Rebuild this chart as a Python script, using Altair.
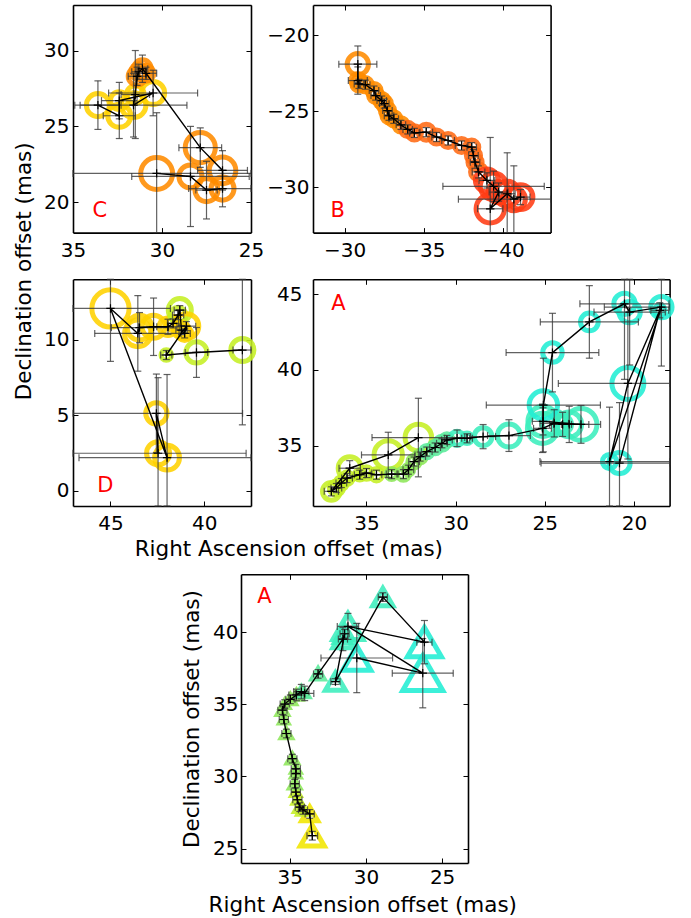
import altair as alt
import pandas as pd

FONT = "DejaVu Sans"

# ---------------- colour codes (component / epoch groups) ----------------
COMP_CODES = ["Y", "YL", "O", "OR", "R", "GY", "G", "GA", "T", "C"]
COMP_COLORS = ["#FFD200", "#F2E600", "#FF8C00", "#FF6A14", "#FF3C14",
               "#C6F024", "#8EE85A", "#5CEB9C", "#3CEFBE", "#22EED4"]

# ---------------- Panel C ----------------
C_ra = [33.6, 32.4, 32.4, 30.5, 31.6, 31.5, 31.4, 31.3, 31.1, 30.9, 27.85, 26.6, 26.6, 27.5, 28.4, 30.3]
C_dec = [26.4, 25.7, 26.7, 27.2, 26.4, 27.1, 28.3, 28.6, 28.8, 28.5, 23.6, 22.1, 20.9, 20.8, 21.7, 21.9]
C_era = [1.3, 0.9, 1.0, 2.5, 3.0, 0.8, 0.5, 0.4, 0.3, 0.6, 1.2, 1.4, 1.9, 0.6, 3.3, 5.5]
C_edec = [1.6, 1.5, 1.2, 1.5, 2.1, 2.9, 0.6, 0.5, 0.9, 0.4, 1.3, 1.3, 1.2, 1.9, 3.3, 4.0]
C_amp = [13, 13, 10, 13, 14, 10, 10, 9, 10, 9, 17, 15, 13, 13, 13, 18]
C_comp = ["Y"] * 6 + ["O"] * 10

# ---------------- Panel B ----------------
B_ra = [-30.83, -30.83, -30.9, -31.3, -31.85, -31.96, -32.34, -32.5, -32.7, -32.8,
        -33.1, -33.55, -33.98, -34.4, -35.15, -35.8, -36.53, -37.38, -38.02, -38.13,
        -38.23, -38.45, -38.98, -39.4, -39.72, -39.19, -40.26, -40.68, -41.1]
B_dec = [-21.9, -22.98, -23.2, -23.25, -23.64, -23.97, -24.3, -24.5, -24.96, -25.3,
         -25.5, -25.9, -26.2, -26.43, -26.38, -26.7, -26.93, -27.26, -27.37, -27.92,
         -28.36, -29.0, -29.56, -29.95, -30.33, -31.43, -30.44, -30.8, -30.66]
B_era = [1.2, 0.6, 0.3, 0.3, 0.3, 0.3, 0.3, 0.3, 0.3, 0.3,
         0.3, 0.3, 0.3, 0.3, 0.4, 0.3, 0.4, 0.4, 0.3, 0.3,
         0.3, 0.4, 0.5, 3.2, 0.6, 0.8, 0.5, 3.5, 0.6]
B_edec = [1.2, 0.9, 0.3, 0.3, 0.3, 0.3, 0.3, 0.3, 0.3, 0.3,
          0.3, 0.3, 0.3, 0.3, 0.3, 0.3, 0.3, 0.3, 0.3, 0.4,
          0.4, 0.4, 0.5, 1.0, 0.6, 4.7, 2.7, 2.2, 0.5]
B_amp = [12, 8, 8, 8, 8, 8, 8, 8, 8, 8,
         8, 8, 8, 8, 9, 8, 8, 8, 8, 8,
         8, 9, 13, 15, 12, 16, 14, 13, 14]
B_comp = ["O"] * 12 + ["OR"] * 10 + ["R"] * 7

# ---------------- Panel D ----------------
D_ra = [42.46, 42.55, 41.98, 45.0, 43.54, 43.45, 42.7, 41.93, 41.66, 41.39, 41.3, 41.21,
        41.04, 40.95, 42.02, 40.41, 37.96]
D_dec = [2.49, 5.13, 2.2, 12.07, 10.42, 10.8, 10.86, 10.86, 11.08, 11.63, 11.96, 10.64,
         10.42, 10.9, 8.99, 9.16, 9.32]
D_era = [4.7, 4.6, 4.7, 3.2, 2.3, 1.5, 0.8, 0.6, 0.3, 0.3, 0.3, 0.3, 0.3, 0.5, 0.3, 0.6, 0.5]
D_edec = [5.0, 2.6, 5.5, 3.5, 2.5, 1.0, 1.9, 0.5, 0.3, 0.3, 0.3, 0.3, 0.3, 0.3, 0.3, 1.65, 4.95]
D_amp = [13, 12, 14, 21, 15, 14, 13, 10, 8, 9, 13, 9, 8, 14, 6, 12, 13]
D_comp = ["Y"] * 9 + ["GY", "GY", "Y", "Y", "Y", "GY", "GY", "GY"]

# ---------------- Panel A (circles) ----------------
A_ra = [32.09, 33.78, 35.94, 36.97, 36.69, 36.41, 36.09, 35.38, 35.0, 34.44,
        33.59, 32.93, 32.65, 32.33, 31.99, 31.62, 31.15, 30.77, 30.49, 29.92,
        29.36, 28.46, 27.01, 25.13, 24.47, 24.0, 23.63, 22.97, 25.1, 25.08,
        24.57, 22.5, 20.53, 20.24, 18.46, 21.37, 20.34, 18.55, 20.81]
A_dec = [35.53, 34.38, 33.5, 31.97, 32.19, 32.52, 32.85, 33.07, 33.18, 33.07,
         33.11, 33.11, 33.4, 33.94, 34.27, 34.6, 34.87, 35.15, 35.37, 35.48,
         35.48, 35.59, 35.66, 36.14, 36.47, 36.4, 36.4, 36.4, 36.6, 37.68,
         41.15, 43.18, 44.38, 43.83, 44.16, 33.94, 39.11, 43.95, 33.84]
A_era = [2.6, 1.5, 0.6, 0.4, 0.3, 0.3, 0.3, 0.3, 0.3, 0.3,
         0.3, 0.3, 0.3, 0.3, 0.3, 0.3, 0.3, 0.3, 0.3, 0.7,
         0.3, 0.7, 1.2, 0.5, 0.8, 0.5, 1.1, 1.1, 0.6, 3.2,
         2.6, 2.75, 2.5, 2.0, 3.2, 3.9, 3.9, 0.5, 4.4]
A_edec = [2.6, 1.5, 0.5, 0.3, 0.3, 0.3, 0.3, 0.3, 0.3, 0.3,
          0.3, 0.3, 0.3, 0.3, 0.3, 0.3, 0.3, 0.3, 0.3, 0.55,
          0.3, 0.8, 1.05, 1.6, 0.9, 0.8, 1.2, 1.25, 0.9, 3.1,
          2.6, 2.4, 5.0, 3.5, 3.9, 3.6, 5.0, 0.5, 4.0]
A_amp = [15, 16, 13, 10, 8, 7, 7, 6, 7, 7,
         6, 7, 6, 7, 7, 7, 7, 8, 7, 8,
         6, 10, 13, 17, 14, 10, 14, 18, 17, 16,
         11, 10, 12, 12, 12, 8, 18, 6, 12]
A_comp = ["GY"] * 10 + ["G"] * 5 + ["GA"] * 4 + ["T"] * 10 + ["C"] * 10

# ---------------- Panel A (triangles, lower figure) ----------------
A2_ra = [33.52, 33.69, 34.13, 34.34, 34.5, 34.6, 34.67, 34.6, 34.6, 34.83,
         35.22, 35.39, 35.48, 35.33, 34.96, 34.56, 34.24, 34.02, 33.14, 31.51,
         31.4, 32.0, 28.89, 26.16, 31.18, 26.27, 30.6]
A2_dec = [25.89, 27.4, 27.68, 27.87, 28.38, 28.91, 29.49, 30.19, 30.53, 31.23,
          32.97, 33.94, 34.59, 35.01, 35.34, 35.64, 35.87, 35.75, 37.1, 39.51,
          39.88, 36.57, 42.42, 39.3, 40.39, 37.15, 38.2]
A2_era = [0.35, 0.3, 0.3, 0.3, 0.3, 0.3, 0.3, 0.3, 0.3, 0.3,
          0.3, 0.3, 0.3, 0.3, 0.3, 0.5, 0.5, 0.6, 0.3, 0.3,
          0.3, 0.3, 0.3, 0.5, 0.7, 2.0, 2.35]
A2_edec = [0.3, 0.3, 0.3, 0.3, 0.3, 0.3, 0.3, 0.3, 0.3, 0.3,
           0.3, 0.3, 0.3, 0.3, 0.3, 0.4, 0.5, 0.5, 0.3, 0.8,
           0.3, 0.2, 0.3, 1.5, 0.9, 2.4, 2.4]
A2_amp = [12, 8, 5, 5, 4, 4, 5, 4, 4, 5,
          5, 4, 5, 4, 5, 5, 5, 4, 6, 10,
          10, 10, 10, 17, 15, 20, 14]
A2_comp = ["YL"] * 2 + ["GY"] * 4 + ["G"] * 10 + ["GA"] * 3 + ["T"] * 4 + ["C", "T", "C", "C"]

# ---------------- panel letters (data coordinates) ----------------
LETTERS = {"C": (33.9, 19.0), "B": (-29.1, -31.97), "D": (45.7, -0.05),
           "A": (36.97, 43.94), "A2": (37.14, 42.02)}

ERR_COLOR = "#3a3a3a"

# ---------------- layout of the figure (pixels inside the whole view) ----------------
W, H = 596.6, 858.0
# panel boxes: left, right, top, bottom
BOX = {
    "C": (0, 178, 0, 227.6),
    "B": (240, 477.6, 0, 227.6),
    "D": (0, 178, 274.3, 501),
    "A": (240, 596.6, 274.3, 501),
    "A2": (168, 395, 569.3, 858),
}

title_common = dict(titleFont=FONT, titleFontSize=21.5, titleFontWeight="normal",
                    titleColor="black", titleAlign="center", titleBaseline="alphabetic")


def make_panel(key, ra, dec, era, edec, amp, comp, xdom, ydom, xticks, yticks,
               letter, shape="circle", size_max=1257,
               xtitle=None, ytitle=None, xlabpad=8, ylabpad=4):
    l, r, t, b = BOX[key]
    df = pd.DataFrame({"idx": list(range(len(ra))), "ra": ra, "dec": dec,
                       "era": era, "edec": edec, "amp": amp, "comp": comp})
    df["xlo"] = df["ra"] - df["era"]
    df["xhi"] = df["ra"] + df["era"]
    df["ylo"] = df["dec"] - df["edec"]
    df["yhi"] = df["dec"] + df["edec"]

    # RA increases to the left
    xs = alt.Scale(domain=xdom, range=[r, l], nice=False, zero=False, clamp=True)
    ys = alt.Scale(domain=ydom, range=[b, t], nice=False, zero=False, clamp=True)

    tick_common = dict(tickSize=5, tickWidth=1, tickColor="black", domain=False,
                       grid=False, labelFlush=False, labelOverlap=False)
    lab_common = dict(labelFont=FONT, labelFontSize=20, labelColor="black", format="d")

    xkw = dict(orient="bottom", values=xticks, offset=b - H - 5, labelPadding=xlabpad,
               **tick_common, **lab_common)
    if xtitle:
        xkw.update(xtitle)
    else:
        xkw["title"] = None
    ykw = dict(orient="left", values=yticks, offset=-(l + 5), labelPadding=ylabpad,
               **tick_common, **lab_common)
    if ytitle:
        ykw.update(ytitle)
    else:
        ykw["title"] = None

    def dom_axis(orient, off):
        return alt.Axis(orient=orient, offset=off, domain=True, domainColor="black",
                        domainWidth=1.6, ticks=False, labels=False, grid=False,
                        title=None)

    def tick_axis(orient, values, off):
        return alt.Axis(orient=orient, values=values, offset=off, labels=False,
                        title=None, **tick_common)

    base = alt.Chart(df)
    rings = base.mark_point(shape=shape, filled=False, strokeWidth=5, opacity=0.88).encode(
        x=alt.X("ra:Q", scale=xs, axis=alt.Axis(**xkw)),
        y=alt.Y("dec:Q", scale=ys, axis=alt.Axis(**ykw)),
        size=alt.Size("amp:Q", scale=alt.Scale(type="pow", exponent=2, domain=[0, 20],
                                               range=[0, size_max]), legend=None),
        color=alt.Color("comp:N", scale=alt.Scale(domain=COMP_CODES, range=COMP_COLORS),
                        legend=None),
    )
    xbars = base.mark_rule(color=ERR_COLOR, strokeWidth=1.2, opacity=0.8).encode(
        x=alt.X("xlo:Q", scale=xs, axis=None), x2="xhi:Q",
        y=alt.Y("dec:Q", scale=ys, axis=None))
    ybars = base.mark_rule(color=ERR_COLOR, strokeWidth=1.2, opacity=0.8).encode(
        y=alt.Y("ylo:Q", scale=ys, axis=None), y2="yhi:Q",
        x=alt.X("ra:Q", scale=xs, axis=None))
    xcaps = base.transform_fold(["xlo", "xhi"], as_=["k", "xv"]).mark_tick(
        orient="vertical", size=7, thickness=1.2, color=ERR_COLOR, opacity=0.8).encode(
        x=alt.X("xv:Q", scale=xs, axis=None), y=alt.Y("dec:Q", scale=ys, axis=None))
    ycaps = base.transform_fold(["ylo", "yhi"], as_=["k", "yv"]).mark_tick(
        orient="horizontal", size=7, thickness=1.2, color=ERR_COLOR, opacity=0.8).encode(
        y=alt.Y("yv:Q", scale=ys, axis=None), x=alt.X("ra:Q", scale=xs, axis=None))
    line = base.mark_line(color="black", strokeWidth=1.4).encode(
        x=alt.X("ra:Q", scale=xs, axis=tick_axis("top", xticks, -(t + 5))),
        y=alt.Y("dec:Q", scale=ys, axis=tick_axis("right", yticks, r - W - 5)),
        order="idx:Q")
    crosses = base.mark_point(shape="M-1,0H1M0,-1V1", filled=False, size=70,
                              strokeWidth=1.2, color="black", opacity=1).encode(
        x=alt.X("ra:Q", scale=xs, axis=dom_axis("bottom", b - H)),
        y=alt.Y("dec:Q", scale=ys, axis=dom_axis("left", -l)))
    ldf = pd.DataFrame({"lx": [LETTERS[key][0]], "ly": [LETTERS[key][1]], "t": [letter]})
    lab = alt.Chart(ldf).mark_text(color="red", fontSize=21, font=FONT, align="left",
                                   baseline="alphabetic").encode(
        x=alt.X("lx:Q", scale=xs, axis=dom_axis("top", -t)),
        y=alt.Y("ly:Q", scale=ys, axis=dom_axis("right", r - W)),
        text="t:N")
    return alt.layer(rings, xbars, ybars, xcaps, ycaps, line, crosses, lab).resolve_axis(
        x="independent", y="independent")


panel_C = make_panel("C", C_ra, C_dec, C_era, C_edec, C_amp, C_comp, [25, 35], [18, 33],
                     [35, 30, 25], [20, 25, 30], "C",
                     ytitle=dict(title="Declination offset (mas)", titleX=-47,
                                 titleY=265.8, titleAngle=270, **title_common))
panel_B = make_panel("B", B_ra, B_dec, B_era, B_edec, B_amp, B_comp, [-43, -28], [-33, -18],
                     [-30, -35, -40], [-30, -25, -20], "B")
panel_D = make_panel("D", D_ra, D_dec, D_era, D_edec, D_amp, D_comp, [37.5, 47], [-1, 14],
                     [45, 40], [0, 5, 10], "D",
                     xtitle=dict(title="Right Ascension offset (mas)", titleX=215.3,
                                 titleY=54.3, titleAngle=0, **title_common))
panel_A = make_panel("A", A_ra, A_dec, A_era, A_edec, A_amp, A_comp, [18, 38], [31, 46],
                     [35, 30, 25, 20], [35, 40, 45], "A", ylabpad=11)
panel_A2 = make_panel("A2", A2_ra, A2_dec, A2_era, A2_edec, A2_amp, A2_comp, [23.3, 38.2],
                      [24, 44], [35, 30, 25], [25, 30, 35, 40], "A",
                      shape="triangle-up", size_max=1600, xlabpad=5, ylabpad=3,
                      xtitle=dict(title="Right Ascension offset (mas)", titleX=168 + 121.3,
                                  titleY=53.5, titleAngle=0, **title_common),
                      ytitle=dict(title="Declination offset (mas)", titleX=-47,
                                  titleY=569.3 + 144.3, titleAngle=270, **title_common))

chart = alt.layer(panel_C, panel_B, panel_D, panel_A, panel_A2).resolve_scale(
    x="independent", y="independent", size="independent"
).resolve_axis(
    x="independent", y="independent"
).properties(
    width=W, height=H,
    padding={"left": 13, "top": 4, "right": 5, "bottom": 5},
    background="white",
).configure_view(stroke="transparent")

chart.save("out.html", embed_options={"renderer": "svg", "actions": False})
